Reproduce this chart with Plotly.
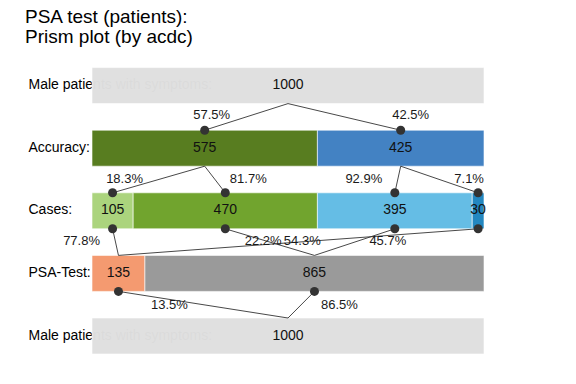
import plotly.graph_objects as go

# ---------------- data ----------------
row_labels = ["Male patients with symptoms:", "Accuracy:", "Cases:", "PSA-Test:",
              "Male patients with symptoms:"]
top_vals = [1000]
accuracy_vals = [575, 425]
cases_vals = [105, 470, 395, 30]
psa_vals = [135, 865]
bottom_vals = [1000]

# links between rows: (upper segment index, lower segment index)
links_top_acc = [(0, 0), (0, 1)]
links_acc_cases = [(0, 0), (0, 1), (1, 2), (1, 3)]
links_cases_psa = [(0, 0), (3, 0), (1, 1), (2, 1)]
links_psa_bottom = [(0, 0), (1, 0)]

# ---------------- style ----------------
top_colors = ["#E0E0E0"]
acc_colors = ["#557A1B", "#3F7FC2"]
cases_colors = ["#A9D37A", "#6EA22A", "#62BCE5", "#1E85BF"]
psa_colors = ["#F4986D", "#989898"]
bottom_colors = ["#E0E0E0"]

FONT = "Arial, Liberation Sans, Helvetica, sans-serif"
W, H = 576, 384
X0_PX, X1_PX = 92, 484
TOTAL = 1000
PPU = (X1_PX - X0_PX) / TOTAL
ROW0_PX, ROW_STEP, BAR_H_PX = 85.6, 62.6, 36
HB = BAR_H_PX / ROW_STEP / 2


def xd(px):
    return (px - X0_PX) / PPU


def px_dx(d):
    return d / PPU


def px_dy(d):
    return -d / ROW_STEP


rows = [top_vals, accuracy_vals, cases_vals, psa_vals, bottom_vals]
colors = [top_colors, acc_colors, cases_colors, psa_colors, bottom_colors]


def bases(vals):
    out, s = [], 0
    for v in vals:
        out.append(s)
        s += v
    return out


def centers(vals):
    return [b + v / 2 for b, v in zip(bases(vals), vals)]


fig = go.Figure()

# row labels (base subplot, drawn beneath the bars)
fig.add_trace(go.Scatter(
    x=[xd(28.5)] * len(row_labels), y=[-i for i in range(len(row_labels))],
    mode="text", text=row_labels, textposition="middle right",
    textfont=dict(family=FONT, size=14, color="#000"),
    hoverinfo="skip", showlegend=False, xaxis="x", yaxis="y"))

# bars
bx, by, bb, bc = [], [], [], []
for r, (vals, cols) in enumerate(zip(rows, colors)):
    bx += vals
    by += [-r] * len(vals)
    bb += bases(vals)
    bc += cols
fig.add_trace(go.Bar(
    x=bx, y=by, base=bb, orientation="h", width=2 * HB,
    marker=dict(color=bc, opacity=0.975,
                line=dict(color="rgba(255,255,255,0.6)", width=1)),
    hoverinfo="skip", showlegend=False, xaxis="x2", yaxis="y2"))

# link lines, dots, percentages
lx, ly, dx_, dy_ = [], [], [], []
ptx, pty, ptt = [], [], []

# label offsets in pixels (relative to the dotted end)
offs_l1 = [(7, -14), (10, -14)]
offs_l2 = [(12, -13), (23, -13), (-31, -13), (-9, -13)]
offs_l3 = [(-31, 13), (-215, 13), (77, 13), (-7, 13)]
offs_l4 = [(51, 14), (25, 14)]


def add_links(r_up, links, split, offs):
    up_vals, lo_vals = rows[r_up], rows[r_up + 1]
    cu, cl = centers(up_vals), centers(lo_vals)
    y_up = -r_up - HB
    y_lo = -(r_up + 1) + HB
    for (iu, il), (ox, oy) in zip(links, offs):
        lx.extend([cu[iu], cl[il], None])
        ly.extend([y_up, y_lo, None])
        if split:
            px, py = cl[il], y_lo
            pct = lo_vals[il] / up_vals[iu] * 100
        else:
            px, py = cu[iu], y_up
            pct = up_vals[iu] / lo_vals[il] * 100
        dx_.append(px)
        dy_.append(py)
        ptx.append(px + px_dx(ox))
        pty.append(py + px_dy(oy))
        ptt.append(f"{pct:.1f}%")


add_links(0, links_top_acc, True, offs_l1)
add_links(1, links_acc_cases, True, offs_l2)
add_links(2, links_cases_psa, False, offs_l3)
add_links(3, links_psa_bottom, False, offs_l4)

fig.add_trace(go.Scatter(
    x=lx, y=ly, mode="lines", line=dict(color="#333333", width=0.9),
    hoverinfo="skip", showlegend=False, xaxis="x2", yaxis="y2"))
fig.add_trace(go.Scatter(
    x=dx_, y=dy_, mode="markers", marker=dict(color="#333333", size=9),
    hoverinfo="skip", showlegend=False, xaxis="x2", yaxis="y2"))

# value labels
vx, vy, vt = [], [], []
for r, vals in enumerate(rows):
    vx += centers(vals)
    vy += [-r] * len(vals)
    vt += [str(v) for v in vals]
fig.add_trace(go.Scatter(
    x=vx, y=vy, mode="text", text=vt, textposition="middle center",
    textfont=dict(family=FONT, size=14, color="#111111"),
    hoverinfo="skip", showlegend=False, xaxis="x2", yaxis="y2"))

fig.add_trace(go.Scatter(
    x=ptx, y=pty, mode="text", text=ptt, textposition="middle center",
    textfont=dict(family=FONT, size=13, color="#1a1a1a"),
    hoverinfo="skip", showlegend=False, xaxis="x2", yaxis="y2"))

xr = [xd(0), xd(W)]
yr = [-(H - ROW0_PX) / ROW_STEP, ROW0_PX / ROW_STEP]
ax = dict(visible=False, showgrid=False, zeroline=False, fixedrange=True)
fig.update_layout(
    width=W, height=H, autosize=False,
    margin=dict(l=0, r=0, t=0, b=0),
    paper_bgcolor="white", plot_bgcolor="white",
    barmode="overlay", showlegend=False,
    xaxis=dict(range=xr, **ax),
    yaxis=dict(range=yr, **ax),
    xaxis2=dict(range=xr, overlaying="x", **ax),
    yaxis2=dict(range=yr, overlaying="y", **ax),
    annotations=[
        dict(text="PSA test (patients):", xref="paper", yref="paper",
             x=23 / W, y=1 - 16.5 / H, xanchor="left", yanchor="middle",
             showarrow=False, font=dict(family=FONT, size=19, color="#000")),
        dict(text="Prism plot (by acdc)", xref="paper", yref="paper",
             x=23 / W, y=1 - 36 / H, xanchor="left", yanchor="middle",
             showarrow=False, font=dict(family=FONT, size=19, color="#000")),
    ],
)

fig.write_html("out.html", config={"displayModeBar": False},
               post_script="document.body.style.margin='0';document.body.style.overflow='hidden';")
